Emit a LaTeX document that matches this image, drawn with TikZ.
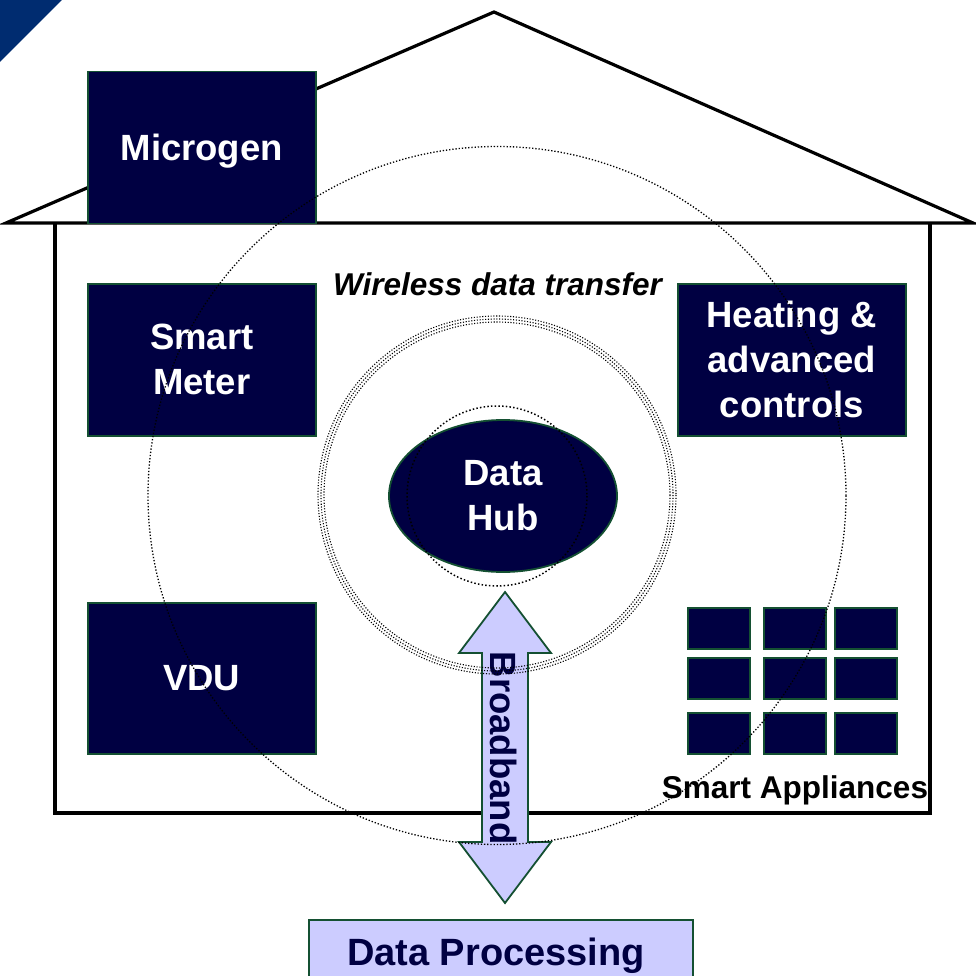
\documentclass[tikz,border=0pt]{standalone}
\usepackage{fontspec}
\setmainfont{Liberation Sans}
\usetikzlibrary{shapes.geometric}
\definecolor{hubnavy}{RGB}{0,0,66}
\definecolor{edgegreen}{RGB}{20,80,50}
\definecolor{lavender}{RGB}{204,204,255}
\definecolor{cornerblue}{RGB}{0,44,112}
\newcommand\lblfont{\fontsize{36.5}{45}\selectfont\bfseries}
\newcommand\capfont{\fontsize{31.5}{38}\selectfont\bfseries}

\begin{document}
\begin{tikzpicture}[x=1pt,y=-1pt,
  housestroke/.style={line width=3.2pt, draw=black, line join=miter},
  darkbox/.style={draw=edgegreen, line width=1.5pt, fill=hubnavy, text=white,
    font=\lblfont, align=center, inner sep=0pt, anchor=north west,
    minimum width=228pt, minimum height=152pt},
  cell/.style={draw=edgegreen, line width=1.5pt, fill=hubnavy, inner sep=0pt,
    anchor=north west, minimum width=62pt, minimum height=41pt},
  lavfill/.style={draw=edgegreen, line width=1.8pt, fill=lavender},
  radio/.style={draw=black, line width=1.3pt, dash pattern=on 1.3pt off 1.9pt},
  caption/.style={font=\capfont, text=black, anchor=base, inner sep=0pt}]

\useasboundingbox (0,0) rectangle (975,976);

% corner tab
\fill[cornerblue] (0,0) -- (62,0) -- (0,62) -- cycle;

% house outline: roof and walls
\coordinate (peak) at (494,12);
\coordinate (eaveL) at (6,223);
\coordinate (eaveR) at (973,223);
\draw[housestroke] (eaveL) -- (peak) -- (eaveR) -- cycle;
\draw[housestroke] (55,223) -- (55,813) -- (930,813) -- (930,223);

% devices
\node[darkbox, text depth=0pt] (microgen) at (87,71) {Microgen};
\node[darkbox] (meter) at (87,283) {Smart\\Meter};
\node[darkbox, minimum height=151pt] (vdu) at (87,602) {VDU};
\node[darkbox] (heating) at (677,283) {Heating \&\\advanced\\controls};

% smart appliances grid
\foreach \cx [count=\i] in {687,763,834}
  \foreach \cy [count=\j] in {607,657,712}
    \node[cell] (app-\i-\j) at (\cx,\cy) {};
\node[caption] (apps) at (795,798) {Smart Appliances};

% data hub
\node[ellipse, draw=edgegreen, line width=1.8pt, fill=hubnavy, text=white,
  font=\lblfont, align=center, inner sep=0pt,
  minimum width=228pt, minimum height=152pt] (hub) at (503,496) {Data\\Hub};

% broadband double arrow
\coordinate (bbtop) at (505,592);
\coordinate (bbbot) at (505,903);
\draw[lavfill, line join=miter]
  (bbtop) -- ++(46,61) -- ++(-23,0) -- ++(0,189) -- ++(23,0) -- (bbbot)
  -- ++(-46,-61) -- ++(23,0) -- ++(0,-189) -- ++(-23,0) -- cycle;
\node[rotate=-90, font=\lblfont, text=hubnavy, inner sep=0pt] (bb) at (504,748) {Broadband};

% data processing
\node[lavfill, anchor=north west, minimum width=384pt, minimum height=80pt,
  inner sep=0pt] (dp) at (308,919) {};
\node[font=\fontsize{38}{45}\selectfont\bfseries, text=hubnavy, anchor=base,
  inner sep=0pt] (dptext) at (496,965) {Data Processing};

% wireless range rings
\draw[radio] (497,495.5) circle[radius=349];
\foreach \r in {173,176,179}
  \draw[radio, line width=1.1pt, dash pattern=on 1.1pt off 1.7pt] (497,495) circle[radius=\r];
\draw[radio, line width=1.5pt, dash pattern=on 1.5pt off 2.2pt] (497,496) circle[radius=90];

\node[caption, font=\capfont\itshape] (wireless) at (497.5,295) {Wireless data transfer};
\end{tikzpicture}
\end{document}
